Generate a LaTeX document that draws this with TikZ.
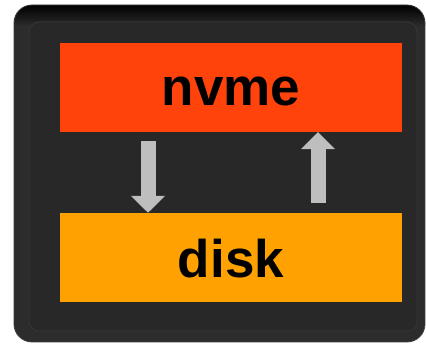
\documentclass[tikz,border=0pt]{standalone}
\usepackage{fontspec}
\setmainfont{Liberation Sans}
\usetikzlibrary{arrows.meta}
\definecolor{frameouter}{HTML}{2C2C2C}
\definecolor{frameedge}{HTML}{3C3C3C}
\definecolor{frameinner}{HTML}{282828}
\definecolor{nvmered}{HTML}{FF430A}
\definecolor{diskorange}{HTML}{FFA100}
\definecolor{arrowgray}{HTML}{BEBEBE}
\tikzset{
  box/.style={minimum width=342pt, minimum height=89pt, inner sep=0pt, draw=none},
  lbl/.style={font=\bfseries\fontsize{53}{60}\selectfont, text=black, inner sep=0pt},
  bigarrow/.style={draw=arrowgray, line width=15pt,
    -{Triangle[width=33pt,length=17pt]}, arrowgray},
}
\begin{document}
\begin{tikzpicture}[x=1pt,y=1pt]
  \useasboundingbox (0,0) rectangle (426,344);
  \fill[white] (0,0) rectangle (426,344);
  % frame
  \begin{scope}
    \clip[rounded corners=18pt] (14,2) rectangle (425,339);
    \fill[frameouter] (14,2) rectangle (425,339);
    \shade[top color=frameedge!150, bottom color=frameouter] (14,318) rectangle (425,339);
  \end{scope}
  \draw[frameedge, line width=0.8pt, rounded corners=18pt] (14,2) rectangle (425,339);
  \draw[draw=frameedge!60!frameinner, fill=frameinner, line width=1pt, rounded corners=10pt] (29,13) rectangle (417,322);
  % boxes
  \node[box, fill=nvmered] (nvme) at (231,256.5) {};
  \node[box, fill=diskorange] (disk) at (231,86.5) {};
  \node[lbl] (nvmetext) at (231,253) {nvme};
  \node[lbl] (disktext) at (231,85) {disk};
  % arrows
  \draw[bigarrow] ([xshift=-83pt,yshift=-9pt]nvme.south) -- ([xshift=-83pt]disk.north);
  \draw[bigarrow] ([xshift=87pt,yshift=10pt]disk.north) -- ([xshift=87pt]nvme.south);
\end{tikzpicture}
\end{document}
